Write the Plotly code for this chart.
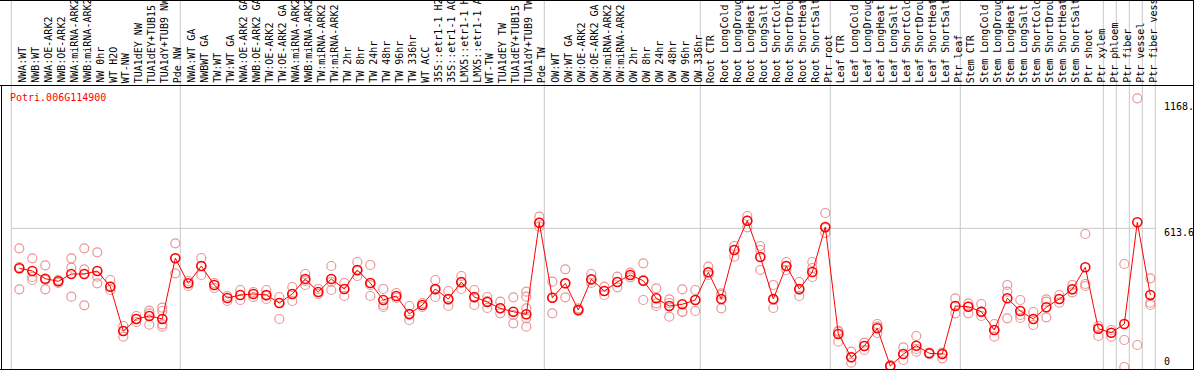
import plotly.graph_objects as go

# ---------------- data ----------------
categories = [
    "NWA:WT", "NWB:WT", "NWA:OE-ARK2", "NWB:OE-ARK2", "NWA:miRNA-ARK2", "NWB:miRNA-ARK2",
    "NW 0hr", "WT H2O", "WT-NW", "TUA1dEY NW", "TUA1dEY+TUB15 NW", "TUA1dY+TUB9 NW", "Pde NW",
    "NWA:WT GA", "NWBWT GA", "TW:WT", "TW:WT GA", "NWA:OE-ARK2 GA", "NWB:OE-ARK2 GA",
    "TW:OE-ARK2", "TW:OE-ARK2 GA", "NWA:miRNA-ARK2 GA", "NWB:miRNA-ARK2 GA", "TW:miRNA-ARK2",
    "TW:miRNA-ARK2 GA", "TW 2hr", "TW 8hr", "TW 24hr", "TW 48hr", "TW 96hr", "TW 336hr",
    "WT ACC", "35S::etr1-1 H2O", "35S::etr1-1 ACC", "LMX5::etr1-1 H2O", "LMX5::etr1-1 ACC",
    "WT-TW", "TUA1dEY TW", "TUA1dEY+TUB15 TW", "TUA1dY+TUB9 TW", "Pde TW",
    "OW:WT", "OW:WT GA", "OW:OE-ARK2", "OW:OE-ARK2 GA", "OW:miRNA-ARK2", "OW:miRNA-ARK2 GA",
    "OW 2hr", "OW 8hr", "OW 24hr", "OW 48hr", "OW 96hr", "OW 336hr",
    "Root CTR", "Root LongCold", "Root LongDrought", "Root LongHeat", "Root LongSalt",
    "Root ShortCold", "Root ShortDrought", "Root ShortHeat", "Root ShortSalt", "Ptr root",
    "Leaf CTR", "Leaf LongCold", "Leaf LongDrought", "Leaf LongHeat", "Leaf LongSalt",
    "Leaf ShortCold", "Leaf ShortDrought", "Leaf ShortHeat", "Leaf ShortSalt", "Ptr leaf",
    "Stem CTR", "Stem LongCold", "Stem LongDrought", "Stem LongHeat", "Stem LongSalt",
    "Stem ShortCold", "Stem ShortDrought", "Stem ShortHeat", "Stem ShortSalt", "Ptr shoot",
    "Ptr xylem", "Ptr phloem", "Ptr fiber", "Ptr vessel", "Ptr fiber vessel",
]

# number of samples in each bordered group (left to right)
group_sizes = [13, 28, 12, 10, 10, 11, 1, 1, 1, 1]

mean_values = [
    436.7, 424.8, 390.7, 379.2, 411.5, 411.5, 424.8, 355.3, 159.3, 212.4, 225.7, 212.4, 481.0,
    370.4, 446.9, 362.9, 305.3, 318.6, 323.0, 318.6, 283.2, 323.0, 389.4, 331.9, 389.4, 345.2,
    429.2, 371.7, 296.5, 314.2, 234.5, 274.4, 345.2, 300.9, 376.1, 309.8, 287.6, 259.7, 244.7,
    233.2, 638.5,
    306.7, 370.4, 252.2, 388.1, 336.3, 376.1, 407.1, 381.9, 304.0, 269.9, 277.4, 296.5,
    419.0, 300.9, 517.7, 647.4, 486.8, 300.9, 446.9, 345.2, 420.4, 619.5,
    146.0, 42.9, 92.9, 171.2, 4.4, 57.5, 94.3, 60.6, 57.5, 269.9,
    266.8, 244.7, 163.7, 304.0, 247.8, 212.4, 264.2, 300.9, 343.8, 441.2, 169.5,
    151.8, 190.3, 640.3, 318.6,
]

replicate_values = [
    [525.2, 442.5, 343.8], [481.0, 398.3, 385.0], [450.0, 385.0, 343.8], [385.0, 379.2, 371.7],
    [481.0, 439.4, 311.1], [525.2, 432.3, 273.0], [507.5, 399.6, 370.4], [385.0, 355.3, 340.7],
    [181.4, 159.3, 134.1], [225.7, 212.4, 199.1], [249.1, 237.6, 187.2],
    [262.4, 247.8, 188.9, 178.3], [547.4, 481.0, 414.6],
    [380.6, 358.4], [482.3, 446.9, 407.1], [371.7, 349.6], [314.2, 292.1], [340.7, 296.5],
    [331.9, 309.8], [340.7, 314.2, 300.9], [309.8, 283.2, 212.4], [354.0, 323.0, 292.1],
    [411.5, 380.6, 362.9], [345.2, 323.0], [446.9, 376.1, 340.7], [371.7, 345.2, 314.2],
    [464.6, 424.8, 402.7], [451.4, 362.9, 314.2], [345.2, 274.4, 265.5], [327.5, 305.3],
    [269.9, 230.1, 208.0], [283.2, 265.5], [385.0, 340.7, 309.8], [336.3, 296.5, 269.9],
    [402.7, 371.7, 345.2], [340.7, 305.3, 274.4], [309.8, 292.1, 261.1], [289.0, 261.1, 237.6],
    [308.4, 230.1, 193.4], [333.2, 311.1, 259.7, 215.5, 178.3], [665.1, 638.5, 620.8],
    [377.5, 306.7, 237.6], [432.3, 370.4, 308.4], [259.7, 252.2, 247.8], [411.5, 385.0, 371.7],
    [355.3, 336.3, 318.6], [399.6, 376.1, 352.7], [417.3, 407.1, 396.9], [458.9, 385.0, 296.5],
    [348.2, 281.9, 269.9], [299.6, 283.2, 222.6], [343.8, 244.7, 243.4], [340.7, 296.5, 247.8],
    [443.8, 419.0, 407.1], [326.1, 318.6, 259.7], [535.4, 517.7, 488.1], [668.2, 647.4, 618.2],
    [535.4, 517.7, 429.2], [362.9, 296.5, 261.1], [464.6, 446.9, 429.2], [376.1, 340.7, 314.2],
    [464.6, 438.1, 398.3], [681.5, 615.1, 592.9],
    [160.0, 156.2, 112.0], [67.7, 42.9, 19.0], [107.5, 92.9, 75.2], [190.3, 178.3, 150.5],
    [8.0, 4.4, 0.5], [87.2, 57.5, 31.0], [137.2, 79.7, 67.7], [63.3, 57.5], [63.3, 57.5, 38.5],
    [304.0, 269.9, 237.6],
    [281.9, 266.8, 237.6], [278.8, 244.7, 225.7], [190.3, 163.7, 134.1], [362.9, 333.2, 215.5],
    [296.5, 230.1, 216.8], [243.4, 212.4, 185.9], [299.6, 289.0, 219.9], [318.6, 300.9, 284.5],
    [362.9, 343.8, 330.5], [588.5, 367.3, 358.4], [181.4, 169.5, 137.2],
    [163.7, 150.5, 134.1], [455.8, 119.5, 0.0], [1189.0, 97.4], [392.5, 284.5, 274.4],
]

gene_id = "Potri.006G114900"
tick_values = [1168.0, 613.6, 0.0]
tick_labels = ["1168.", "613.6", "0"]
gridline_value = 613.6

# ---------------- figure ----------------
W, H = 1194, 370
FONT = "DejaVu Sans Mono"
n = len(categories)
x_idx = list(range(n))

# x / y ranges: column pitch 13 px, first column at 19.3 px; value 0 at 367 px
x0 = -19.3 / 13.0
x1 = x0 + W / 13.0
y_scale = 0.226  # px per unit
y0 = -(H - 367) / y_scale
y1 = y0 + H / y_scale

def py(pix):
    """paper y from pixel row"""
    return 1 - pix / H

def px(pix):
    return pix / W

fig = go.Figure()

rx, ry = [], []
for i, reps in enumerate(replicate_values):
    for v in reps:
        rx.append(i)
        ry.append(v)

fig.add_trace(go.Scatter(
    x=rx, y=ry, mode="markers",
    marker=dict(symbol="circle-open", size=9, color="#eb9696", line=dict(width=1.2, color="#eb9696")),
    hoverinfo="skip", showlegend=False, cliponaxis=False,
))
fig.add_trace(go.Scatter(
    x=x_idx, y=mean_values, mode="lines+markers",
    line=dict(color="#ff0000", width=1),
    marker=dict(symbol="circle-open", size=9, color="#ff0000", line=dict(width=1.6, color="#ff0000")),
    showlegend=False, cliponaxis=False,
))

shapes = []
grey = "#c8c8c8"
# group separators
start = 0
bounds = [start - 8 / 13.0]
for g in group_sizes:
    start += g
    if start < n:
        bounds.append(start - 8 / 13.0)
bounds.append(n - 1 + 5 / 13.0)
for b in bounds:
    shapes.append(dict(type="line", xref="x", yref="paper", x0=b, x1=b, y0=0, y1=1,
                       line=dict(color=grey, width=1), layer="below"))
# horizontal gridline
shapes.append(dict(type="line", xref="x", yref="y", x0=bounds[0], x1=bounds[-1],
                   y0=gridline_value, y1=gridline_value, line=dict(color=grey, width=1), layer="below"))
# black frame lines
blk = dict(color="#000000", width=1)
shapes.append(dict(type="line", xref="paper", yref="paper", x0=0, x1=1, y0=py(0.5), y1=py(0.5), line=blk))
shapes.append(dict(type="line", xref="paper", yref="paper", x0=0, x1=1, y0=py(85.5), y1=py(85.5), line=blk))
shapes.append(dict(type="line", xref="paper", yref="paper", x0=0, x1=1, y0=py(369.5), y1=py(369.5), line=blk))
shapes.append(dict(type="line", xref="paper", yref="paper", x0=px(1.5), x1=px(1.5), y0=py(85.5), y1=py(369.5), line=blk))
shapes.append(dict(type="line", xref="paper", yref="paper", x0=px(1193.5), x1=px(1193.5), y0=0, y1=1, line=blk))

annotations = []
for i, lab in enumerate(categories):
    annotations.append(dict(
        x=i, xref="x", y=py(84), yref="paper", text=lab, textangle=-90,
        xanchor="center", yanchor="bottom", showarrow=False, xshift=2.5,
        font=dict(family=FONT, size=10, color="#000000"), borderpad=0,
    ))

annotations.append(dict(
    x=px(9), xref="paper", y=py(97), yref="paper", text=gene_id,
    xanchor="left", yanchor="middle", showarrow=False, borderpad=0,
    font=dict(family=FONT, size=10, color="#ff0000"),
))

tick_pix = [106.7, 232.5, 361.7]
for tv, tl, tp in zip(tick_values, tick_labels, tick_pix):
    annotations.append(dict(
        x=px(1163), xref="paper", y=py(tp), yref="paper", text=tl,
        xanchor="left", yanchor="middle", showarrow=False, borderpad=0,
        font=dict(family=FONT, size=10, color="#000000"),
    ))

fig.update_layout(
    width=W, height=H, autosize=False,
    margin=dict(l=0, r=0, t=0, b=0, pad=0),
    paper_bgcolor="#ffffff", plot_bgcolor="#ffffff",
    xaxis=dict(range=[x0, x1], visible=False, fixedrange=True),
    yaxis=dict(range=[y0, y1], visible=False, fixedrange=True),
    shapes=shapes, annotations=annotations, showlegend=False,
)

fig.write_html(
    "out.html",
    config=dict(displayModeBar=False),
    post_script="document.body.style.margin='0px';document.body.style.overflow='hidden';",
)
